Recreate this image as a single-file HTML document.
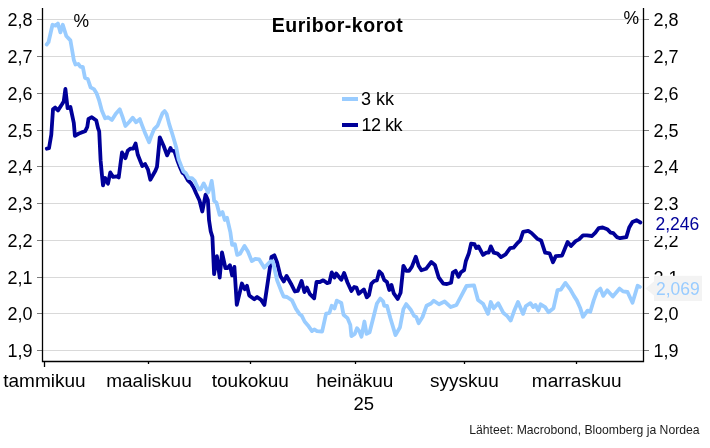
<!DOCTYPE html>
<html><head><meta charset="utf-8"><style>
html,body{margin:0;padding:0;background:#fff;}
body{width:710px;height:448px;overflow:hidden;position:relative;}
svg{position:absolute;left:0;top:0;will-change:transform;}
text{font-family:"Liberation Sans",sans-serif;}
</style></head><body>
<svg width="710" height="448" viewBox="0 0 710 448">
<g stroke="#d9d9d9" stroke-width="1" shape-rendering="crispEdges"><line x1="42.5" x2="643.5" y1="19.5" y2="19.5"/><line x1="42.5" x2="643.5" y1="56.5" y2="56.5"/><line x1="42.5" x2="643.5" y1="93.5" y2="93.5"/><line x1="42.5" x2="643.5" y1="130.5" y2="130.5"/><line x1="42.5" x2="643.5" y1="166.5" y2="166.5"/><line x1="42.5" x2="643.5" y1="203.5" y2="203.5"/><line x1="42.5" x2="643.5" y1="240.5" y2="240.5"/><line x1="42.5" x2="643.5" y1="277.5" y2="277.5"/><line x1="42.5" x2="643.5" y1="313.5" y2="313.5"/><line x1="42.5" x2="643.5" y1="350.5" y2="350.5"/></g>
<g stroke="#7a7a7a" stroke-width="1" shape-rendering="crispEdges"><line x1="36.5" x2="41.8" y1="19.5" y2="19.5"/><line x1="643.5" x2="649" y1="19.5" y2="19.5"/><line x1="36.5" x2="41.8" y1="56.5" y2="56.5"/><line x1="643.5" x2="649" y1="56.5" y2="56.5"/><line x1="36.5" x2="41.8" y1="93.5" y2="93.5"/><line x1="643.5" x2="649" y1="93.5" y2="93.5"/><line x1="36.5" x2="41.8" y1="130.5" y2="130.5"/><line x1="643.5" x2="649" y1="130.5" y2="130.5"/><line x1="36.5" x2="41.8" y1="166.5" y2="166.5"/><line x1="643.5" x2="649" y1="166.5" y2="166.5"/><line x1="36.5" x2="41.8" y1="203.5" y2="203.5"/><line x1="643.5" x2="649" y1="203.5" y2="203.5"/><line x1="36.5" x2="41.8" y1="240.5" y2="240.5"/><line x1="643.5" x2="649" y1="240.5" y2="240.5"/><line x1="36.5" x2="41.8" y1="277.5" y2="277.5"/><line x1="643.5" x2="649" y1="277.5" y2="277.5"/><line x1="36.5" x2="41.8" y1="313.5" y2="313.5"/><line x1="643.5" x2="649" y1="313.5" y2="313.5"/><line x1="36.5" x2="41.8" y1="350.5" y2="350.5"/><line x1="643.5" x2="649" y1="350.5" y2="350.5"/></g>
<g fill="#000" font-size="18" letter-spacing="0"><text x="32.6" y="25.80" text-anchor="end">2,8</text><text x="653.5" y="25.80">2,8</text><text x="32.6" y="62.80" text-anchor="end">2,7</text><text x="653.5" y="62.80">2,7</text><text x="32.6" y="99.80" text-anchor="end">2,6</text><text x="653.5" y="99.80">2,6</text><text x="32.6" y="136.80" text-anchor="end">2,5</text><text x="653.5" y="136.80">2,5</text><text x="32.6" y="172.80" text-anchor="end">2,4</text><text x="653.5" y="172.80">2,4</text><text x="32.6" y="209.80" text-anchor="end">2,3</text><text x="653.5" y="209.80">2,3</text><text x="32.6" y="246.80" text-anchor="end">2,2</text><text x="653.5" y="246.80">2,2</text><text x="32.6" y="283.80" text-anchor="end">2,1</text><text x="653.5" y="283.80">2,1</text><text x="32.6" y="319.80" text-anchor="end">2,0</text><text x="653.5" y="319.80">2,0</text><text x="32.6" y="356.80" text-anchor="end">1,9</text><text x="653.5" y="356.80">1,9</text></g>
<text x="73.5" y="26.6" font-size="17.5" fill="#000">%</text>
<text x="623.5" y="23.6" font-size="17.5" fill="#000">%</text>
<text x="337.5" y="31.7" font-size="19.5" letter-spacing="0.55" font-weight="bold" text-anchor="middle" fill="#000">Euribor-korot</text>
<rect x="342" y="97" width="16" height="4" fill="#99ccff"/>
<rect x="342" y="123" width="16" height="4" fill="#000099"/>
<text x="361" y="104.6" font-size="18" fill="#000">3 kk</text>
<text x="361.5" y="131" font-size="18" letter-spacing="-0.5" fill="#000">12 kk</text>
<g fill="none" stroke-linejoin="round" stroke-linecap="round">
<polyline points="46.8,148.7 49.0,148.2 51.3,134.6 53.0,109.3 55.2,107.6 58.0,110.4 62.0,104.2 63.7,101.4 65.4,89.0 67.6,108.2 70.4,107.0 73.8,122.8 74.9,135.8 78.9,133.5 81.7,132.4 85.1,131.3 87.3,126.8 88.5,118.9 91.8,117.2 96.3,120.6 98.0,128.0 99.2,131.3 100.6,160.4 101.8,173.5 103.0,185.4 105.2,178.0 108.0,183.7 110.3,172.4 113.1,176.9 117.0,176.3 118.7,177.5 120.4,164.5 122.0,152.5 125.4,158.2 127.7,150.8 130.5,148.6 133.3,148.6 135.6,143.5 137.8,154.8 142.3,166.1 145.1,164.0 148.0,169.6 150.3,179.7 155.4,170.7 157.0,166.8 159.8,137.3 163.7,146.0 167.1,155.4 170.5,148.0 171.5,150.5 174.4,151.2 177.3,160.2 180.1,167.5 182.3,172.6 184.6,174.3 188.0,180.5 190.8,183.0 193.6,187.5 196.2,193.5 199.5,200.5 202.3,211.5 205.6,194.6 207.9,200.3 209.0,220.0 210.7,231.3 212.4,236.9 214.1,274.2 216.9,256.2 219.7,277.6 222.0,252.3 225.4,268.0 227.6,268.0 229.9,265.2 232.1,275.4 234.4,266.9 236.8,304.9 241.9,283.5 244.7,289.2 247.0,285.8 249.2,295.4 254.3,299.3 257.1,297.0 261.1,299.9 264.4,304.9 268.7,275.9 271.5,256.9 274.3,255.3 277.1,262.5 280.4,275.9 283.8,281.5 286.6,275.9 291.0,283.7 294.9,291.5 297.7,291.0 301.6,280.9 304.4,292.1 306.9,287.6 309.7,293.8 314.2,298.3 316.5,282.0 319.9,282.0 323.2,280.3 327.2,283.1 329.4,282.5 331.7,272.4 334.5,277.5 336.2,273.5 341.3,279.7 344.1,273.0 347.5,282.5 351.4,291.0 354.2,287.0 356.5,287.6 358.7,293.8 363.9,289.4 366.8,297.3 369.0,295.1 371.3,283.8 374.1,281.0 376.9,280.4 379.2,271.4 382.0,274.2 384.2,279.9 387.0,282.1 389.3,290.0 391.5,284.9 393.8,293.4 397.7,299.0 400.6,292.8 403.4,265.8 406.2,270.8 409.0,270.8 411.8,266.9 415.8,256.8 418.6,265.8 421.4,270.3 426.0,268.8 431.3,262.0 434.9,264.9 438.7,277.5 443.3,283.6 447.0,284.0 451.1,282.8 452.8,272.6 455.6,270.8 458.5,276.8 460.9,272.3 464.1,270.1 465.8,261.3 468.9,253.2 471.1,243.6 474.5,244.2 476.2,248.1 478.5,246.4 483.0,254.9 486.3,252.6 488.6,252.6 490.8,246.4 493.7,252.6 497.6,253.7 501.0,257.1 505.6,254.4 510.1,248.2 513.5,247.7 516.9,243.7 520.3,240.4 523.1,231.9 528.2,230.8 531.5,233.0 537.2,238.7 541.1,240.4 545.1,252.7 549.6,253.3 553.0,262.3 555.8,256.1 562.0,255.6 567.6,242.0 571.0,246.0 575.6,241.1 579.0,239.4 583.0,235.4 586.9,235.4 592.0,236.0 595.4,232.6 598.7,228.1 602.7,227.5 607.2,229.2 610.6,232.6 613.4,233.2 616.8,237.1 620.1,238.2 626.3,237.1 629.2,227.5 632.5,221.9 636.5,220.2 640.4,222.5" stroke="#000099" stroke-width="3.8"/>
<polyline points="46.7,44.5 48.5,42.2 52.5,24.8 55.6,25.7 57.9,23.5 60.4,32.4 62.8,24.8 66.3,36.0 70.4,40.4 72.1,50.0 73.8,60.0 75.5,64.5 78.3,64.0 80.5,66.8 82.8,66.8 85.0,77.9 87.8,79.0 90.6,87.4 93.9,89.1 96.7,93.6 99.0,100.0 101.8,110.4 105.1,118.3 108.0,117.2 111.9,120.0 115.8,113.8 119.8,109.3 122.6,117.2 125.4,126.0 129.4,121.7 132.7,117.7 136.1,122.3 139.8,119.1 142.0,125.1 145.5,134.1 149.1,142.2 151.6,135.2 154.1,129.1 157.6,125.6 160.1,119.1 162.6,113.0 164.6,111.0 166.6,114.0 169.2,124.1 172.7,135.2 176.2,147.2 178.5,159.0 181.3,166.3 183.5,171.4 185.8,173.1 188.6,178.2 192.0,178.2 194.7,180.8 196.7,185.4 199.0,189.4 200.7,189.4 203.7,183.4 205.7,187.4 208.1,192.5 210.1,187.4 211.7,180.9 213.1,190.7 214.1,200.8 216.5,202.8 219.7,214.9 222.5,212.1 224.8,220.0 227.0,217.7 230.4,232.4 232.1,244.8 234.9,244.2 237.2,254.9 240.0,253.8 244.5,245.9 247.9,251.5 251.8,261.1 255.2,258.9 259.2,259.4 264.3,267.7 270.2,261.5 272.9,261.5 277.1,280.4 281.0,290.4 283.6,296.5 287.0,297.0 292.0,300.4 296.0,308.9 299.4,313.9 301.8,315.8 304.6,321.5 308.0,325.4 312.0,331.1 314.2,329.4 317.0,331.1 322.1,331.6 326.1,313.6 329.4,313.0 331.7,305.7 334.5,308.5 336.8,300.6 341.3,302.9 343.5,314.7 347.5,318.1 350.3,324.9 351.4,336.1 354.8,333.9 357.0,328.2 359.3,331.1 361.5,336.7 364.4,321.5 366.6,333.9 369.6,332.3 373.5,317.0 376.9,303.5 380.3,298.5 383.1,301.3 384.2,305.8 387.0,305.8 390.4,318.2 395.5,335.1 400.0,327.2 403.4,309.2 406.2,304.1 410.7,309.7 414.1,315.9 416.3,317.0 418.6,323.2 422.5,317.0 426.5,305.8 431.0,303.5 433.8,300.7 439.0,304.3 444.6,301.5 450.8,307.1 456.5,304.9 461.0,296.4 466.5,286.0 474.0,285.3 478.0,300.0 483.0,303.7 488.0,313.9 490.8,302.0 493.7,308.2 498.2,303.2 503.2,312.7 507.3,316.1 510.7,320.6 514.1,311.1 518.0,302.0 523.1,313.9 525.9,306.0 530.4,303.2 533.2,307.1 535.5,304.9 538.3,310.5 540.6,304.3 545.1,307.1 548.5,312.2 553.5,308.2 557.5,290.2 560.8,289.6 565.4,282.9 570.4,289.6 573.9,295.9 576.8,300.4 580.1,307.7 583.0,316.8 587.5,310.6 590.3,311.7 593.7,300.4 597.0,291.4 600.4,288.6 603.2,295.9 607.2,290.3 612.8,296.5 619.6,288.6 623.0,291.4 627.5,292.0 632.5,302.7 637.6,285.8 639.9,286.9" stroke="#99ccff" stroke-width="3.8"/>
</g>
<g stroke="#000" stroke-width="1.3" fill="none">
<polyline points="42.5,8 42.5,361.5 643.5,361.5 643.5,8"/>
</g>
<g stroke="#000" stroke-width="1.3"><line x1="44.5" x2="44.5" y1="361.5" y2="367"/><line x1="148.5" x2="148.5" y1="361.5" y2="364"/><line x1="250.5" x2="250.5" y1="361.5" y2="364"/><line x1="355.5" x2="355.5" y1="361.5" y2="364"/><line x1="464.5" x2="464.5" y1="361.5" y2="364"/><line x1="576.5" x2="576.5" y1="361.5" y2="364"/></g>
<g fill="#000" font-size="19"><text x="44.4" y="386.7" text-anchor="middle">tammikuu</text><text x="149" y="386.7" text-anchor="middle">maaliskuu</text><text x="250.3" y="386.7" text-anchor="middle">toukokuu</text><text x="354.8" y="386.7" text-anchor="middle">heinäkuu</text><text x="464.4" y="386.7" text-anchor="middle">syyskuu</text><text x="576.7" y="386.7" text-anchor="middle">marraskuu</text></g>
<text x="363.8" y="410" font-size="18.5" text-anchor="middle" fill="#000">25</text>
<rect x="654" y="210.5" width="48" height="25.5" fill="#fff"/>
<text x="655.5" y="229.6" font-size="17.5" fill="#000099">2,246</text>
<path d="M645.4,288.5 L654,281.5 L654,295.5 Z" fill="#f3f3f3"/>
<rect x="654" y="275.8" width="48" height="25.2" fill="#f3f3f3"/>
<text x="656" y="294.6" font-size="17.5" fill="#99ccff">2,069</text>
<text x="699.6" y="434" font-size="12.2" text-anchor="end" fill="#1c1c1c">Lähteet: Macrobond, Bloomberg ja Nordea</text>
</svg>
</body></html>
